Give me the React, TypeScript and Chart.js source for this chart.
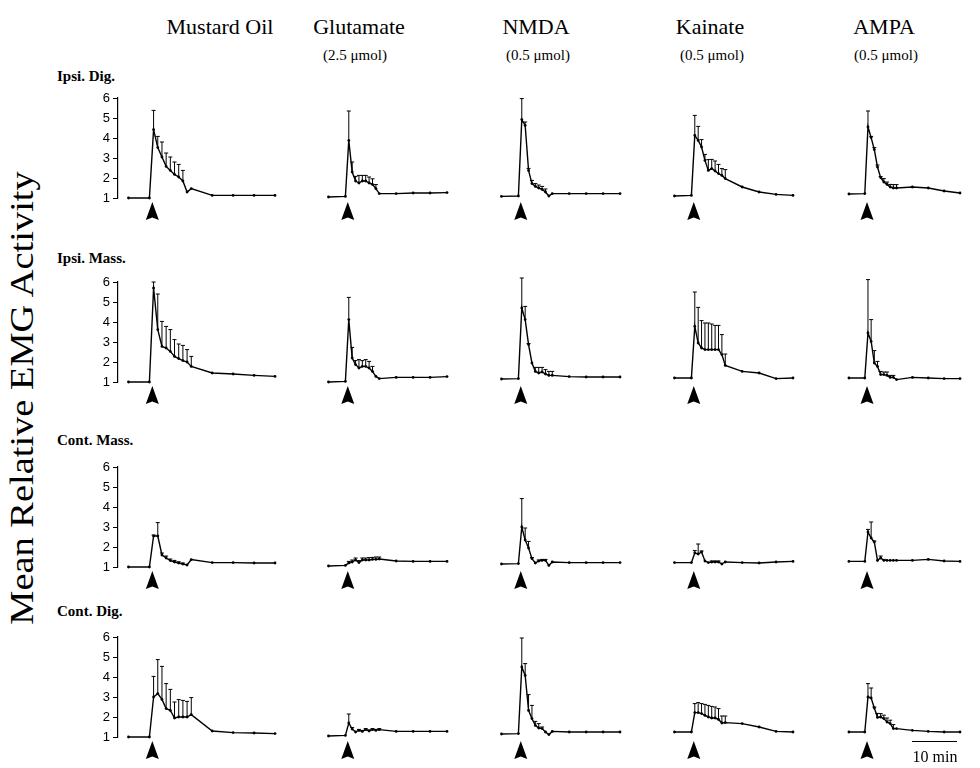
import React, { useEffect, useRef } from "react";
import { Chart, registerables } from "chart.js";

Chart.register(...registerables);

// ---------- data ----------
const TIMES = [-5, 0, 1, 2, 3, 4, 5, 6, 7, 8, 9, 10, 15, 20, 25, 30];
const DRUGS = ["Mustard Oil", "Glutamate", "NMDA", "Kainate", "AMPA"];
const DOSES = ["", "(2.5 μmol)", "(0.5 μmol)", "(0.5 μmol)", "(0.5 μmol)"];
const MUSCLES = ["Ipsi. Dig.", "Ipsi. Mass.", "Cont. Mass.", "Cont. Dig."];
const Y_TICKS = [1, 2, 3, 4, 5, 6];
const INJECTION_T = 0.7;
const SCALE_BAR_LABEL = "10 min";
const Y_TITLE = "Mean Relative EMG Activity";

// Ipsi. Dig.
const ipsiDigMO = [1.0, 1.0, 4.42, 3.52, 3.05, 2.58, 2.38, 2.18, 2.05, 1.85, 1.3, 1.47, 1.13, 1.13, 1.13, 1.13];
const ipsiDigMOErr = [0, 0, 0.96, 0.56, 0.75, 0.67, 0.67, 0.62, 0.63, 0.53, 0, 0, 0, 0, 0, 0];
const ipsiDigGlu = [1.05, 1.08, 3.88, 2.3, 1.85, 1.75, 1.85, 1.85, 1.75, 1.68, 1.47, 1.22, 1.22, 1.25, 1.25, 1.27];
const ipsiDigGluErr = [0, 0, 1.47, 0.5, 0.23, 0.38, 0.28, 0.28, 0.3, 0.28, 0.2, 0, 0, 0, 0, 0];
const ipsiDigNMDA = [1.08, 1.1, 4.92, 4.63, 2.38, 1.72, 1.58, 1.5, 1.43, 1.3, 1.1, 1.22, 1.22, 1.22, 1.22, 1.22];
const ipsiDigNMDAErr = [0, 0, 1.05, 0.17, 0.1, 0.16, 0.14, 0.15, 0.15, 0.15, 0, 0, 0, 0, 0, 0];
const ipsiDigKai = [1.1, 1.13, 4.13, 3.88, 3.55, 2.88, 2.38, 2.47, 2.35, 2.22, 2.13, 1.97, 1.55, 1.3, 1.18, 1.13];
const ipsiDigKaiErr = [0, 0, 1.0, 0.7, 0.37, 0.3, 0.54, 0.46, 0.5, 0.46, 0.34, 0.45, 0, 0, 0, 0];
const ipsiDigAMPA = [1.2, 1.22, 4.55, 4.02, 3.42, 2.55, 2.02, 1.8, 1.68, 1.55, 1.5, 1.5, 1.55, 1.5, 1.35, 1.25];
const ipsiDigAMPAErr = [0, 0, 0.8, 0.06, 0.1, 0.1, 0.05, 0.17, 0.12, 0.13, 0.17, 0.17, 0, 0, 0, 0];

// Ipsi. Mass.
const ipsiMassMO = [1.0, 1.0, 5.7, 3.62, 2.78, 2.7, 2.53, 2.28, 2.17, 2.07, 2.0, 1.78, 1.45, 1.4, 1.33, 1.28];
const ipsiMassMOErr = [0, 0, 0.3, 1.78, 1.25, 1.08, 1.09, 0.84, 0.73, 0.76, 0.62, 0.5, 0, 0, 0, 0];
const ipsiMassGlu = [1.0, 1.03, 4.12, 2.2, 1.87, 1.7, 1.78, 1.78, 1.7, 1.53, 1.28, 1.17, 1.23, 1.23, 1.23, 1.27];
const ipsiMassGluErr = [0, 0, 1.11, 0.53, 0.2, 0.42, 0.29, 0.34, 0.33, 0.25, 0, 0, 0, 0, 0, 0];
const ipsiMassNMDA = [1.15, 1.17, 4.7, 4.12, 2.87, 1.95, 1.53, 1.45, 1.5, 1.4, 1.33, 1.33, 1.27, 1.25, 1.25, 1.25];
const ipsiMassNMDAErr = [0, 0, 1.5, 0.66, 0.05, 0, 0.2, 0.28, 0.23, 0.22, 0.2, 0.2, 0, 0, 0, 0];
const ipsiMassKai = [1.2, 1.2, 3.78, 2.95, 2.7, 2.62, 2.62, 2.62, 2.62, 2.62, 2.37, 1.83, 1.53, 1.45, 1.17, 1.2];
const ipsiMassKaiErr = [0, 0, 1.72, 1.78, 1.37, 1.33, 1.33, 1.28, 1.21, 1.21, 1.0, 0.57, 0, 0, 0, 0];
const ipsiMassAMPA = [1.2, 1.2, 3.45, 3.03, 1.95, 1.78, 1.37, 1.37, 1.33, 1.23, 1.23, 1.12, 1.23, 1.2, 1.17, 1.17];
const ipsiMassAMPAErr = [0, 0, 2.67, 1.09, 0.62, 0.25, 0.16, 0.13, 0.17, 0.1, 0.1, 0, 0, 0, 0, 0];

// Cont. Mass.
const contMassMO = [1.0, 1.0, 2.55, 2.55, 1.6, 1.45, 1.32, 1.25, 1.2, 1.15, 1.1, 1.37, 1.22, 1.22, 1.2, 1.2];
const contMassMOErr = [0, 0, 0.05, 0.67, 0.1, 0.1, 0.08, 0.08, 0.06, 0.05, 0, 0, 0, 0, 0, 0];
const contMassGlu = [1.05, 1.08, 1.2, 1.25, 1.35, 1.22, 1.35, 1.35, 1.35, 1.38, 1.38, 1.4, 1.3, 1.28, 1.28, 1.28];
const contMassGluErr = [0, 0, 0.08, 0.1, 0.1, 0.1, 0.1, 0.1, 0.12, 0.1, 0.12, 0.1, 0, 0, 0, 0];
const contMassNMDA = [1.15, 1.17, 3.0, 2.35, 1.95, 1.42, 1.2, 1.3, 1.33, 1.33, 1.08, 1.25, 1.22, 1.22, 1.22, 1.22];
const contMassNMDAErr = [0, 0, 1.42, 0.6, 0.33, 0.05, 0, 0.05, 0.05, 0.05, 0, 0, 0, 0, 0, 0];
const contMassKai = [1.22, 1.22, 1.7, 1.65, 1.75, 1.3, 1.22, 1.25, 1.25, 1.25, 1.15, 1.25, 1.22, 1.2, 1.25, 1.28];
const contMassKaiErr = [0, 0, 0.12, 0.5, 0.05, 0, 0, 0.05, 0.05, 0.05, 0, 0, 0, 0, 0, 0];
const contMassAMPA = [1.28, 1.28, 2.75, 2.45, 2.25, 1.33, 1.45, 1.33, 1.33, 1.33, 1.33, 1.33, 1.33, 1.38, 1.3, 1.28];
const contMassAMPAErr = [0, 0, 0.13, 0.8, 0.05, 0, 0.1, 0.05, 0, 0, 0, 0, 0, 0, 0, 0];

// Cont. Dig.
const contDigMO = [1.0, 1.0, 3.0, 3.17, 2.88, 2.42, 2.33, 1.95, 2.0, 2.0, 2.0, 2.12, 1.3, 1.22, 1.2, 1.17];
const contDigMOErr = [0, 0, 1.03, 1.7, 1.65, 1.25, 1.05, 0.8, 0.87, 0.83, 0.78, 0.85, 0, 0, 0, 0];
const contDigGlu = [1.05, 1.08, 1.7, 1.4, 1.25, 1.33, 1.28, 1.37, 1.3, 1.37, 1.33, 1.37, 1.28, 1.28, 1.28, 1.28];
const contDigGluErr = [0, 0, 0.45, 0.07, 0, 0.05, 0.05, 0.05, 0.05, 0.05, 0.05, 0.05, 0, 0, 0, 0];
const contDigNMDA = [1.15, 1.17, 4.5, 4.08, 2.33, 1.92, 1.58, 1.45, 1.42, 1.25, 1.12, 1.28, 1.25, 1.25, 1.25, 1.25];
const contDigNMDAErr = [0, 0, 1.45, 0.59, 0.79, 0.66, 0.2, 0.22, 0.08, 0, 0, 0, 0, 0, 0, 0];
const contDigKai = [1.25, 1.25, 2.22, 2.22, 2.17, 2.08, 2.0, 1.95, 1.95, 1.88, 1.7, 1.72, 1.67, 1.5, 1.28, 1.25];
const contDigKaiErr = [0, 0, 0.45, 0.5, 0.5, 0.55, 0.58, 0.58, 0.55, 0.54, 0.35, 0.33, 0, 0, 0, 0];
const contDigAMPA = [1.25, 1.25, 3.0, 2.95, 2.45, 1.98, 2.0, 1.92, 1.75, 1.67, 1.42, 1.42, 1.33, 1.28, 1.25, 1.25];
const contDigAMPAErr = [0, 0, 0.67, 0.5, 0.05, 0.2, 0.17, 0.17, 0.2, 0.17, 0.2, 0, 0, 0, 0, 0];

const PANELS: [number[], number[]][][] = [
  [[ipsiDigMO, ipsiDigMOErr], [ipsiDigGlu, ipsiDigGluErr], [ipsiDigNMDA, ipsiDigNMDAErr], [ipsiDigKai, ipsiDigKaiErr], [ipsiDigAMPA, ipsiDigAMPAErr]],
  [[ipsiMassMO, ipsiMassMOErr], [ipsiMassGlu, ipsiMassGluErr], [ipsiMassNMDA, ipsiMassNMDAErr], [ipsiMassKai, ipsiMassKaiErr], [ipsiMassAMPA, ipsiMassAMPAErr]],
  [[contMassMO, contMassMOErr], [contMassGlu, contMassGluErr], [contMassNMDA, contMassNMDAErr], [contMassKai, contMassKaiErr], [contMassAMPA, contMassAMPAErr]],
  [[contDigMO, contDigMOErr], [contDigGlu, contDigGluErr], [contDigNMDA, contDigNMDAErr], [contDigKai, contDigKaiErr], [contDigAMPA, contDigAMPAErr]],
];

// ---------- layout ----------
const X_MIN = -7.5;
const X_MAX = 30;
const COL_LEFT = [117.5, 290, 462.5, 636, 811];
const COL_WIDTH = [157, 157, 157, 157, 148.5];
const ROW_TOP = [98, 282, 467, 637];
const PLOT_H = 100;
const PAD_L = 44;
const PAD_R = 10;
const PAD_T = 14;
const PAD_B = 30;
const AXIS_W = 30;
const TITLE_X = [220, 359, 536, 710, 884];
const SUB_X = [0, 355, 538, 712, 886];
const ROW_LABEL_Y = [76, 258, 440, 611];

const SERIF = "'Liberation Serif', 'Times New Roman', Times, serif";
const SANS = "'Liberation Sans', Arial, Helvetica, sans-serif";

function Panel({ row, col }: { row: number; col: number }) {
  const ref = useRef<HTMLCanvasElement>(null);
  const [values, errs] = PANELS[row][col];
  const showAxis = col === 0;
  const w = COL_WIDTH[col];
  const cw = Math.round(w + PAD_L + PAD_R);
  const ch = PLOT_H + PAD_T + PAD_B;

  useEffect(() => {
    const errorBars = {
      id: "errorBars",
      afterDatasetsDraw(chart: any) {
        const { ctx, scales } = chart;
        const xs = scales.x, ys = scales.y;
        ctx.save();
        ctx.strokeStyle = "#000";
        ctx.lineWidth = 1;
        TIMES.forEach((t, i) => {
          const e = errs[i];
          if (!e) return;
          const x = xs.getPixelForValue(t);
          const y0 = ys.getPixelForValue(values[i]);
          const y1 = ys.getPixelForValue(values[i] + e);
          ctx.beginPath();
          ctx.moveTo(x, y0);
          ctx.lineTo(x, y1);
          ctx.moveTo(x - 2, y1);
          ctx.lineTo(x + 2, y1);
          ctx.stroke();
        });
        ctx.restore();
      },
    };
    const arrow = {
      id: "injectionArrow",
      afterDraw(chart: any) {
        const { ctx, scales, chartArea } = chart;
        const x = scales.x.getPixelForValue(INJECTION_T);
        const b = chartArea.bottom;
        ctx.save();
        ctx.fillStyle = "#000";
        ctx.beginPath();
        ctx.moveTo(x, b + 4);
        ctx.lineTo(x + 6.5, b + 22);
        ctx.lineTo(x, b + 19.5);
        ctx.lineTo(x - 6.5, b + 22);
        ctx.closePath();
        ctx.fill();
        ctx.restore();
      },
    };
    const chart = new Chart(ref.current as HTMLCanvasElement, {
      type: "line",
      data: {
        datasets: [
          {
            data: TIMES.map((t, i) => ({ x: t, y: values[i] })),
            borderColor: "#000",
            borderWidth: 1.4,
            pointRadius: 1.4,
            pointBackgroundColor: "#000",
            pointBorderWidth: 0,
            tension: 0,
            clip: false as any,
          },
        ],
      },
      options: {
        responsive: false,
        animation: false,
        events: [],
        layout: {
          padding: { left: showAxis ? PAD_L - AXIS_W : PAD_L, right: PAD_R, top: PAD_T, bottom: PAD_B },
        },
        plugins: { legend: { display: false }, tooltip: { enabled: false } },
        scales: {
          x: { type: "linear", min: X_MIN, max: X_MAX, display: false },
          y: {
            type: "linear",
            min: Y_TICKS[0],
            max: Y_TICKS[Y_TICKS.length - 1],
            display: showAxis,
            afterFit: (s: any) => {
              s.width = AXIS_W;
            },
            afterBuildTicks: (s: any) => {
              s.ticks = Y_TICKS.map((v) => ({ value: v }));
            },
            ticks: { color: "#000", font: { family: SANS, size: 13 }, padding: 3 },
            grid: { drawOnChartArea: false, drawTicks: true, tickLength: 5, color: "#000", lineWidth: 1 },
            border: { display: true, color: "#000", width: 1.2 },
          },
        },
      } as any,
      plugins: [errorBars, arrow],
    });
    return () => chart.destroy();
  }, []);

  return (
    <canvas
      ref={ref}
      width={cw}
      height={ch}
      style={{ position: "absolute", left: COL_LEFT[col] - PAD_L, top: ROW_TOP[row] - PAD_T, width: cw, height: ch }}
    />
  );
}

export default function App() {
  return (
    <div style={{ position: "absolute", left: 0, top: 0, width: 980, height: 768, background: "#fff", overflow: "hidden" }}>
      {DRUGS.map((d, i) => (
        <div
          key={d}
          style={{ position: "absolute", left: TITLE_X[i], top: 27, transform: "translate(-50%, -50%)", fontFamily: SERIF, fontSize: 22, whiteSpace: "nowrap", color: "#000" }}
        >
          {d}
        </div>
      ))}
      {DOSES.map((d, i) =>
        d ? (
          <div
            key={i}
            style={{ position: "absolute", left: SUB_X[i], top: 55, transform: "translate(-50%, -50%)", fontFamily: SERIF, fontSize: 15, whiteSpace: "nowrap", color: "#000" }}
          >
            {d}
          </div>
        ) : null
      )}
      {MUSCLES.map((m, r) => (
        <div
          key={m}
          style={{ position: "absolute", left: 57, top: ROW_LABEL_Y[r], transform: "translateY(-50%)", fontFamily: SERIF, fontSize: 15, fontWeight: "bold", whiteSpace: "nowrap", color: "#000" }}
        >
          {m}
        </div>
      ))}
      <div
        style={{ position: "absolute", left: 22, top: 398, transform: "translate(-50%, -50%) rotate(-90deg) scaleX(1.13)", fontFamily: SERIF, fontSize: 34, whiteSpace: "nowrap", color: "#000" }}
      >
        {Y_TITLE}
      </div>
      {MUSCLES.map((_, r) => DRUGS.map((_, c) => <Panel key={r + "-" + c} row={r} col={c} />))}
      <div style={{ position: "absolute", left: 912, top: 741, width: 45, height: 0, borderTop: "1.5px solid #000" }} />
      <div
        style={{ position: "absolute", left: 935, top: 757, transform: "translate(-50%, -50%)", fontFamily: SERIF, fontSize: 16, whiteSpace: "nowrap", color: "#000" }}
      >
        {SCALE_BAR_LABEL}
      </div>
    </div>
  );
}
